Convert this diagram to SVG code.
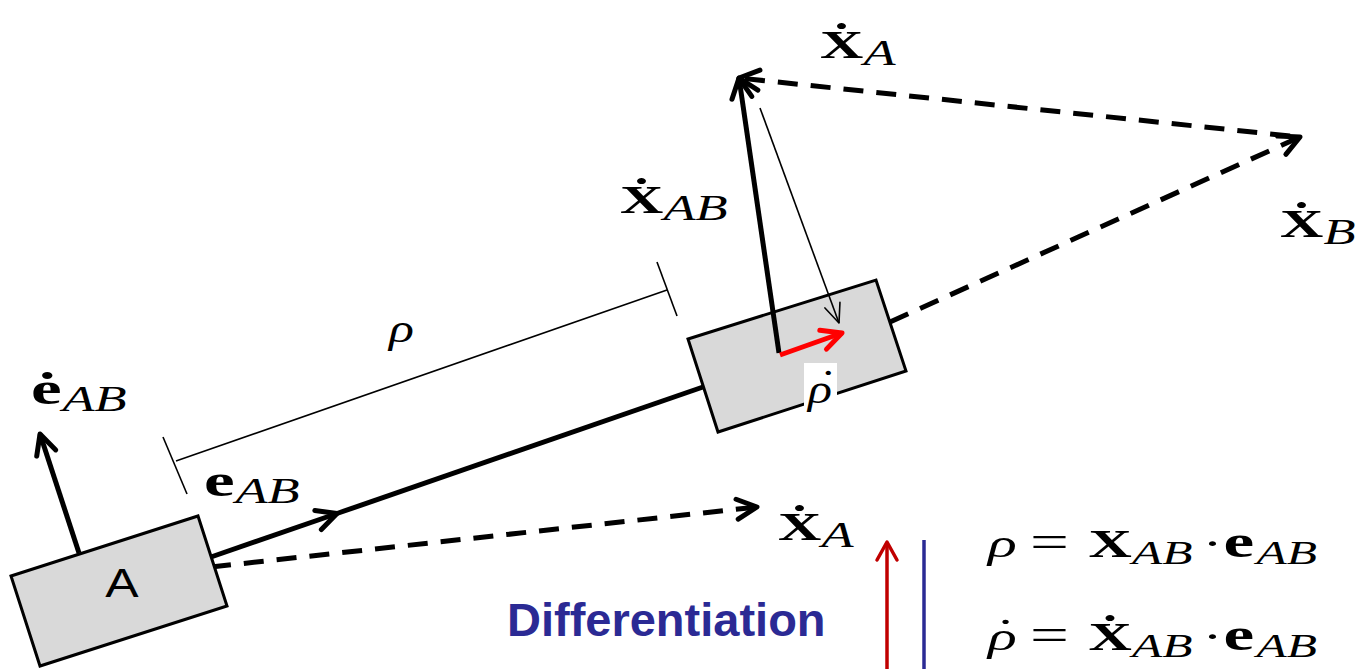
<svg xmlns="http://www.w3.org/2000/svg" width="1358" height="669" viewBox="0 0 1358 669">
<defs>
<style>
.box{fill:#d9d9d9;stroke:#000;stroke-width:3}
.thick{stroke:#000;stroke-width:5;fill:none;stroke-linecap:butt}
.dash{stroke:#000;stroke-width:5;fill:none;stroke-dasharray:20 13}
.thin{stroke:#000;stroke-width:1.6;fill:none}
.m{font-family:"Liberation Serif","Times New Roman",serif;font-size:40px;fill:#000}
.b{font-weight:700;font-style:normal}
.e{font-size:46px}
.i{font-style:italic;font-weight:400}
.s{font-size:35px}
.sans{font-family:"Liberation Sans",Arial,sans-serif}
</style>
<marker id="ah" markerUnits="userSpaceOnUse" viewBox="-24 -14 28 28" markerWidth="28" markerHeight="28" refX="0" refY="0" orient="auto">
<path d="M-20,-10 L0,0 L-20,10" fill="none" stroke="#000" stroke-width="5" stroke-linecap="round" stroke-linejoin="round"/>
</marker>
<marker id="ahThin" markerUnits="userSpaceOnUse" viewBox="-22 -12 26 24" markerWidth="26" markerHeight="24" refX="0" refY="0" orient="auto">
<path d="M-19,-8 L0,0 L-19,8" fill="none" stroke="#000" stroke-width="1.6" stroke-linecap="round" stroke-linejoin="round"/>
</marker>
<marker id="ahRed" markerUnits="userSpaceOnUse" viewBox="-24 -14 28 28" markerWidth="28" markerHeight="28" refX="0" refY="0" orient="auto">
<path d="M-20,-10 L0,0 L-20,10" fill="none" stroke="#ff0000" stroke-width="5" stroke-linecap="round" stroke-linejoin="round"/>
</marker>
<marker id="ahDark" markerUnits="userSpaceOnUse" viewBox="-22 -13 26 26" markerWidth="26" markerHeight="26" refX="0" refY="0" orient="auto">
<path d="M-18,-10 L0,0 L-18,10" fill="none" stroke="#c00000" stroke-width="3.5" stroke-linecap="round" stroke-linejoin="round"/>
</marker>
</defs>
<rect width="1358" height="669" fill="#fff"/>

<g id="connectors">
<line class="thin" x1="176" y1="461" x2="667" y2="290"/>
<line class="thin" x1="163" y1="437" x2="187" y2="494"/>
<line class="thin" x1="657" y1="262" x2="677" y2="316"/>
<line class="thick" x1="211" y1="557" x2="337" y2="513.5" marker-end="url(#ah)"/>
<line class="thick" x1="337" y1="513.5" x2="703" y2="387"/>
<line class="dash" x1="211" y1="567" x2="757" y2="507" marker-end="url(#ah)"/>
<line class="thick" x1="79" y1="553" x2="40" y2="434" marker-end="url(#ah)"/>
<line class="dash" x1="890" y1="322" x2="1300" y2="137" marker-end="url(#ah)"/>
<line class="dash" x1="1290" y1="136" x2="739" y2="78" marker-end="url(#ah)"/>
</g>

<g id="nodeA">
<polygon class="box" points="11,576 198,516 227,606 40,666"/>
<text class="sans" font-size="40" transform="translate(122,597) scale(1.25,1)" text-anchor="middle" fill="#000">A</text>
</g>

<g id="nodeB">
<polygon class="box" points="688,339 876,280 906,371 718,432"/>
</g>

<g id="vectorsB">
<line class="thick" x1="779" y1="353" x2="739" y2="78" marker-end="url(#ah)"/>
<line class="thin" x1="760" y1="108" x2="839" y2="323" marker-end="url(#ahThin)"/>
<line x1="780" y1="355" x2="842" y2="333" stroke="#ff0000" stroke-width="5" marker-end="url(#ahRed)"/>
<rect x="804" y="363" width="33" height="49" fill="#fff"/>
<text class="m i" transform="translate(808,403) scale(1.25,1)"><tspan>ρ</tspan><tspan x="7" dy="-6">˙</tspan></text>
</g>

<g id="labels">
<text class="m" transform="translate(820,58) scale(1.5,1)"><tspan class="b">Ẋ</tspan><tspan class="i s" x="29" dy="7">A</tspan></text>
<text class="m" transform="translate(620,213) scale(1.5,1)"><tspan class="b">Ẋ</tspan><tspan class="i s" x="29" dy="7">AB</tspan></text>
<text class="m" transform="translate(1280,237) scale(1.5,1)"><tspan class="b">Ẋ</tspan><tspan class="i s" x="29" dy="7">B</tspan></text>
<text class="m" transform="translate(31,404) scale(1.5,1)"><tspan class="b e">ė</tspan><tspan class="i s" x="21" dy="7">AB</tspan></text>
<text class="m" transform="translate(204,496) scale(1.5,1)"><tspan class="b e">e</tspan><tspan class="i s" x="21" dy="7">AB</tspan></text>
<text class="m" transform="translate(778,540) scale(1.5,1)"><tspan class="b">Ẋ</tspan><tspan class="i s" x="29" dy="7">A</tspan></text>
<text class="m i" transform="translate(389,342) scale(1.3,1)">ρ</text>
</g>

<g id="differentiation">
<line x1="887" y1="669" x2="887" y2="542" stroke="#c00000" stroke-width="3.5" marker-end="url(#ahDark)"/>
<line x1="924" y1="540" x2="924" y2="669" stroke="#2b2a94" stroke-width="3.5"/>
<text class="sans" x="507" y="636" font-size="47" font-weight="700" fill="#2b2a94">Differentiation</text>
</g>

<g id="equations">
<text class="m" transform="translate(988,557) scale(1.5,1)"><tspan class="i">ρ</tspan><tspan x="28" font-size="46">=</tspan><tspan class="b" x="67">X</tspan><tspan class="i" x="96" dy="7" font-size="33">AB</tspan><tspan x="143" dy="-7">·</tspan><tspan class="b e" x="157">e</tspan><tspan class="i" x="179" dy="7" font-size="33">AB</tspan></text>
<text class="m" transform="translate(988,650) scale(1.5,1)"><tspan class="i">ρ</tspan><tspan x="5" dy="-4">˙</tspan><tspan x="28" dy="4" font-size="46">=</tspan><tspan class="b" x="67">Ẋ</tspan><tspan class="i" x="96" dy="7" font-size="33">AB</tspan><tspan x="143" dy="-7">·</tspan><tspan class="b e" x="157">e</tspan><tspan class="i" x="179" dy="7" font-size="33">AB</tspan></text>
</g>
</svg>
